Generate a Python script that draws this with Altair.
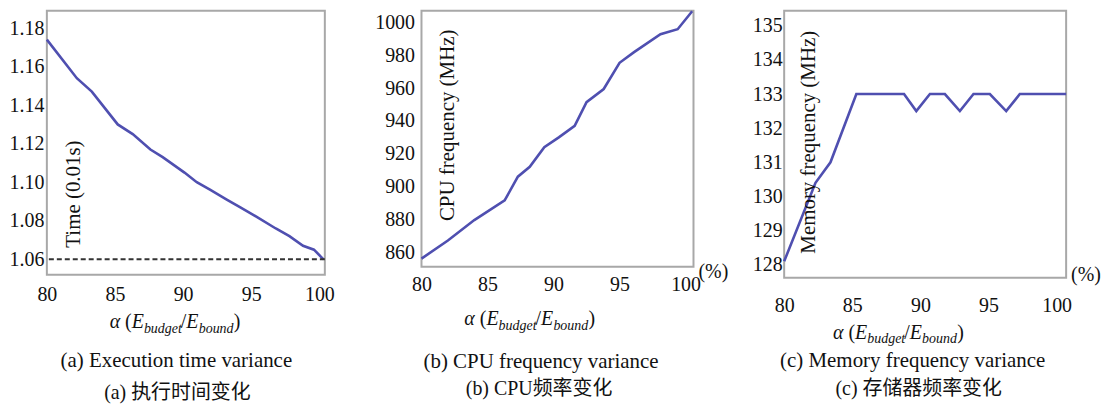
import altair as alt
import pandas as pd

# ---------------- data ----------------
# (a) execution time vs alpha
alpha_a = [80, 82.2, 83.3, 85.2, 86.3, 87.6, 88.5, 90.1, 91.0, 92.0, 93.2, 94.2, 95.4, 96.8, 97.8, 98.8, 99.6, 100.3]
time_a = [1.174, 1.154, 1.147, 1.130, 1.125, 1.117, 1.113, 1.105, 1.100, 1.096, 1.091, 1.087, 1.082, 1.076, 1.072, 1.067, 1.065, 1.060]
bound_a = [1.06]

# (b) CPU frequency vs alpha
alpha_b = [80, 82.0, 84.0, 86.3, 87.3, 88.2, 89.3, 90.4, 91.6, 92.5, 93.8, 95.0, 96.1, 98.1, 99.4, 100.5]
cpu_b = [856, 867, 879.5, 891.5, 906, 912, 924, 930, 937, 951.5, 959.5, 975.5, 982, 993, 996, 1007]

# (c) memory frequency vs alpha
alpha_c = [80, 82.3, 83.4, 85.3, 88.8, 89.7, 90.7, 91.8, 92.9, 93.9, 95.1, 96.3, 97.3, 100.7]
mem_c = [128.1, 130.4, 131.0, 133.0, 133.0, 132.5, 133.0, 133.0, 132.5, 133.0, 133.0, 132.5, 133.0, 133.0]

x_ticks = [80, 85, 90, 95, 100]
y_ticks_a = [1.06, 1.08, 1.10, 1.12, 1.14, 1.16, 1.18]
y_ticks_b = [860, 880, 900, 920, 940, 960, 980, 1000]
y_ticks_c = [128, 129, 130, 131, 132, 133, 134, 135]

ytitle_a = "Time (0.01s)"
ytitle_b = "CPU frequency (MHz)"
ytitle_c = "Memory frequency (MHz)"
cap_en = ["(a) Execution time variance", "(b) CPU frequency variance", "(c) Memory frequency variance"]
cap_zh = ["(a)  执行时间变化", "(b) CPU频率变化", "(c)  存储器频率变化"]

# ---------------- style ----------------
SERIF = "Liberation Serif"
ZH = "Liberation Serif, Noto Sans CJK SC"
LINE = "#4f4fb0"


def txt(s, x, y, size=20, style="normal", align="left", baseline="alphabetic", angle=0, font=SERIF):
    return alt.Chart(pd.DataFrame({"t": [s]})).mark_text(
        font=font, fontSize=size, fontStyle=style, align=align, baseline=baseline,
        angle=angle, color="#111"
    ).encode(text="t:N", x=alt.value(x), y=alt.value(y))


def alpha_label(x0, yb):
    # α (E_budget / E_bound) built from pieces
    parts = [
        ("α", 0, 20, "italic", 0),
        ("(", 15.5, 20, "normal", 0),
        ("E", 22.2, 20, "italic", 0),
        ("budget", 34.4, 14, "italic", 5),
        ("/", 71.5, 20, "normal", 0),
        ("E", 77.0, 20, "italic", 0),
        ("bound", 89.4, 14, "italic", 5),
        (")", 124.6, 20, "normal", 0),
    ]
    return [txt(s, x0 + dx, yb + dy, size=sz, style=st) for s, dx, sz, st, dy in parts]


def base(df, xdom, ydom, yvals, yfmt, xpad, ypad):
    return alt.Chart(df).mark_line(color=LINE, strokeWidth=2.6).encode(
        x=alt.X("alpha:Q", scale=alt.Scale(domain=xdom, nice=False, zero=False),
                axis=alt.Axis(values=x_ticks, labelPadding=xpad, labelFlush=False, title=None)),
        y=alt.Y("v:Q", scale=alt.Scale(domain=ydom, nice=False, zero=False),
                axis=alt.Axis(values=yvals, format=yfmt, labelPadding=ypad, title=None)),
    )


# ---------------- panel (a) ----------------
df_a = pd.DataFrame({"alpha": alpha_a, "v": time_a})
line_a = base(df_a, [80, 100.4], [1.052, 1.189], y_ticks_a, ".2f", 10, 3)
rule_a = alt.Chart(pd.DataFrame({"v": bound_a})).mark_rule(
    color="#333", strokeDash=[5, 3], strokeWidth=2).encode(y="v:Q")
pa = alt.layer(
    line_a, rule_a,
    txt(ytitle_a, 27, 184, size=21, align="center", baseline="middle", angle=270),
    *alpha_label(63, 318),
    txt(cap_en[0], 130, 352, size=21, align="center", baseline="middle"),
    txt(cap_zh[0], 131, 384, size=20, align="center", baseline="middle", font=ZH),
).properties(width=279, height=265)

# ---------------- panel (b) ----------------
df_b = pd.DataFrame({"alpha": alpha_b, "v": cpu_b})
line_b = base(df_b, [80, 100.6], [851, 1007.3], y_ticks_b, "d", 8, 7)
pb = alt.layer(
    line_b,
    txt(ytitle_b, 27, 115, size=21, align="center", baseline="middle", angle=270),
    txt("(%)", 278, 262, size=20, baseline="middle"),
    *alpha_label(43, 315),
    txt(cap_en[1], 120, 353, size=21, align="center", baseline="middle"),
    txt(cap_zh[1], 118, 380, size=20, align="center", baseline="middle", font=ZH),
).properties(width=273, height=257)

# ---------------- panel (c) ----------------
df_c = pd.DataFrame({"alpha": alpha_c, "v": mem_c})
line_c = base(df_c, [80, 100.7], [127.62, 135.44], y_ticks_c, "d", 18, 2)
pc = alt.layer(
    line_c,
    txt(ytitle_c, 25, 132, size=21, align="center", baseline="middle", angle=270),
    txt("(%)", 288, 265, size=20, baseline="middle"),
    *alpha_label(49, 329),
    txt(cap_en[2], 129, 352, size=21, align="center", baseline="middle"),
    txt(cap_zh[2], 135, 380, size=20, align="center", baseline="middle", font=ZH),
).properties(width=283, height=268)

chart = alt.hconcat(
    alt.hconcat(pa, pb, spacing=38), pc, spacing=22
).properties(
    padding={"left": 0, "top": -4, "right": 0, "bottom": 0}
).configure_view(
    stroke="#a8a8a8", strokeWidth=2
).configure_axis(
    grid=False, domain=False, ticks=False,
    labelFont=SERIF, labelFontSize=20, labelColor="#111"
)

chart.save("out.html", embed_options={"renderer": "svg", "actions": False})
